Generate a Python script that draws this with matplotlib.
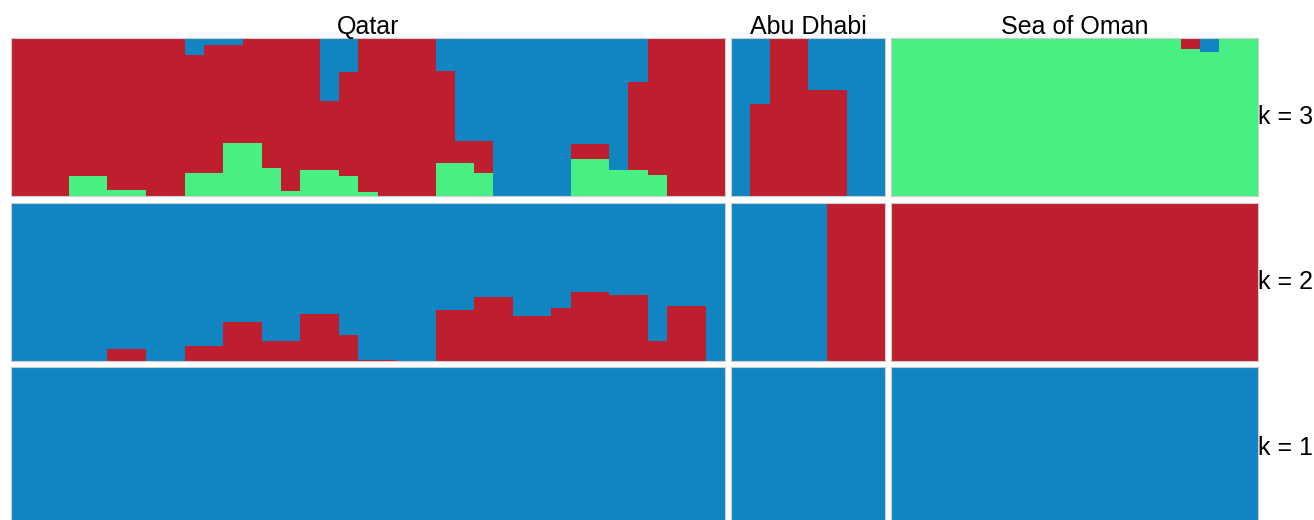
import numpy as np
import matplotlib.pyplot as plt

plt.rcParams['font.family'] = ['Liberation Sans', 'DejaVu Sans']

RED = '#BE1E2D'
BLUE = '#1185C1'
GREEN = '#48EF82'

populations = ['Qatar', 'Abu Dhabi', 'Sea of Oman']
n_samples = [37, 8, 19]
k_labels = ['k = 3', 'k = 2', 'k = 1']

# k = 3 ancestry proportions (green bottom, red middle, blue top)
qatar_k3_green = [0, 0, 0, 0.13, 0.13, 0.042, 0.042, 0, 0, 0.145, 0.145, 0.337, 0.337,
                  0.18, 0.036, 0.164, 0.164, 0.126, 0.03, 0, 0, 0, 0.21, 0.21, 0.145,
                  0, 0, 0, 0, 0.236, 0.236, 0.164, 0.164, 0.133, 0, 0, 0]
qatar_k3_blue = [0, 0, 0, 0, 0, 0, 0, 0, 0, 0.105, 0.042, 0.042, 0, 0, 0, 0, 0.40,
                 0.215, 0, 0, 0, 0, 0.206, 0.648, 0.648, 1, 1, 1, 1, 0.667, 0.667,
                 0.836, 0.274, 0, 0, 0, 0]
abu_k3_green = [0, 0, 0, 0, 0, 0, 0, 0]
abu_k3_blue = [1, 0.415, 0, 0, 0.33, 0.33, 1, 1]
oman_k3_green = [1] * 15 + [0.934, 0.915, 1, 1]
oman_k3_blue = [0] * 16 + [0.085, 0, 0]

# k = 2 ancestry proportions (red bottom, blue top)
qatar_k2_red = [0, 0, 0, 0, 0, 0.081, 0.081, 0, 0, 0.1, 0.1, 0.248, 0.248, 0.131,
                0.131, 0.301, 0.301, 0.168, 0.011, 0.011, 0, 0, 0.326, 0.326, 0.407,
                0.407, 0.284, 0.284, 0.335, 0.438, 0.438, 0.422, 0.422, 0.131, 0.348,
                0.348, 0]
abu_k2_red = [0, 0, 0, 0, 0, 1, 1, 1]
oman_k2_red = [1] * 19

k3 = [(qatar_k3_green, qatar_k3_blue), (abu_k3_green, abu_k3_blue),
      (oman_k3_green, oman_k3_blue)]
k2 = [qatar_k2_red, abu_k2_red, oman_k2_red]

W, H = 1314, 520
fig = plt.figure(figsize=(W / 100, H / 100), dpi=100)

left0 = 11
gap = 6
sw = (1258 - left0 - 2 * gap) / sum(n_samples)
row_tops = [38.3, 203.3, 367.3]
row_h = 158.0


def add_panel(col, row):
    x0 = left0 + sw * sum(n_samples[:col]) + gap * col
    w = sw * n_samples[col]
    y_top = row_tops[row]
    ax = fig.add_axes([x0 / W, 1 - (y_top + row_h) / H, w / W, row_h / H])
    ax.set_xlim(-0.5, n_samples[col] - 0.5)
    ax.set_ylim(0, 1)
    ax.set_xticks([])
    ax.set_yticks([])
    for s in ax.spines.values():
        s.set_color('#cccccc')
        s.set_linewidth(0.8)
    return ax


for col in range(3):
    n = n_samples[col]
    x = np.arange(n)

    # k = 3
    ax = add_panel(col, 0)
    g = np.array(k3[col][0], dtype=float)
    b = np.array(k3[col][1], dtype=float)
    r = 1 - g - b
    ax.bar(x, g, width=1, color=GREEN, linewidth=0)
    ax.bar(x, r, width=1, bottom=g, color=RED, linewidth=0)
    ax.bar(x, b, width=1, bottom=g + r, color=BLUE, linewidth=0)
    ax.text(0.5, 0.995, populations[col], transform=ax.transAxes,
            ha='center', va='bottom', fontsize=18)

    # k = 2
    ax = add_panel(col, 1)
    r2 = np.array(k2[col], dtype=float)
    ax.bar(x, r2, width=1, color=RED, linewidth=0)
    ax.bar(x, 1 - r2, width=1, bottom=r2, color=BLUE, linewidth=0)

    # k = 1
    ax = add_panel(col, 2)
    ax.bar(x, np.ones(n), width=1, color=BLUE, linewidth=0)

    if col == 2:
        for row in range(3):
            yc = row_tops[row] + row_h / 2
            if row == 2:
                yc = 448
            fig.text(1258 / W, 1 - yc / H, k_labels[row], ha='left',
                     va='center', fontsize=18)

fig.savefig('out.png', dpi=100)
